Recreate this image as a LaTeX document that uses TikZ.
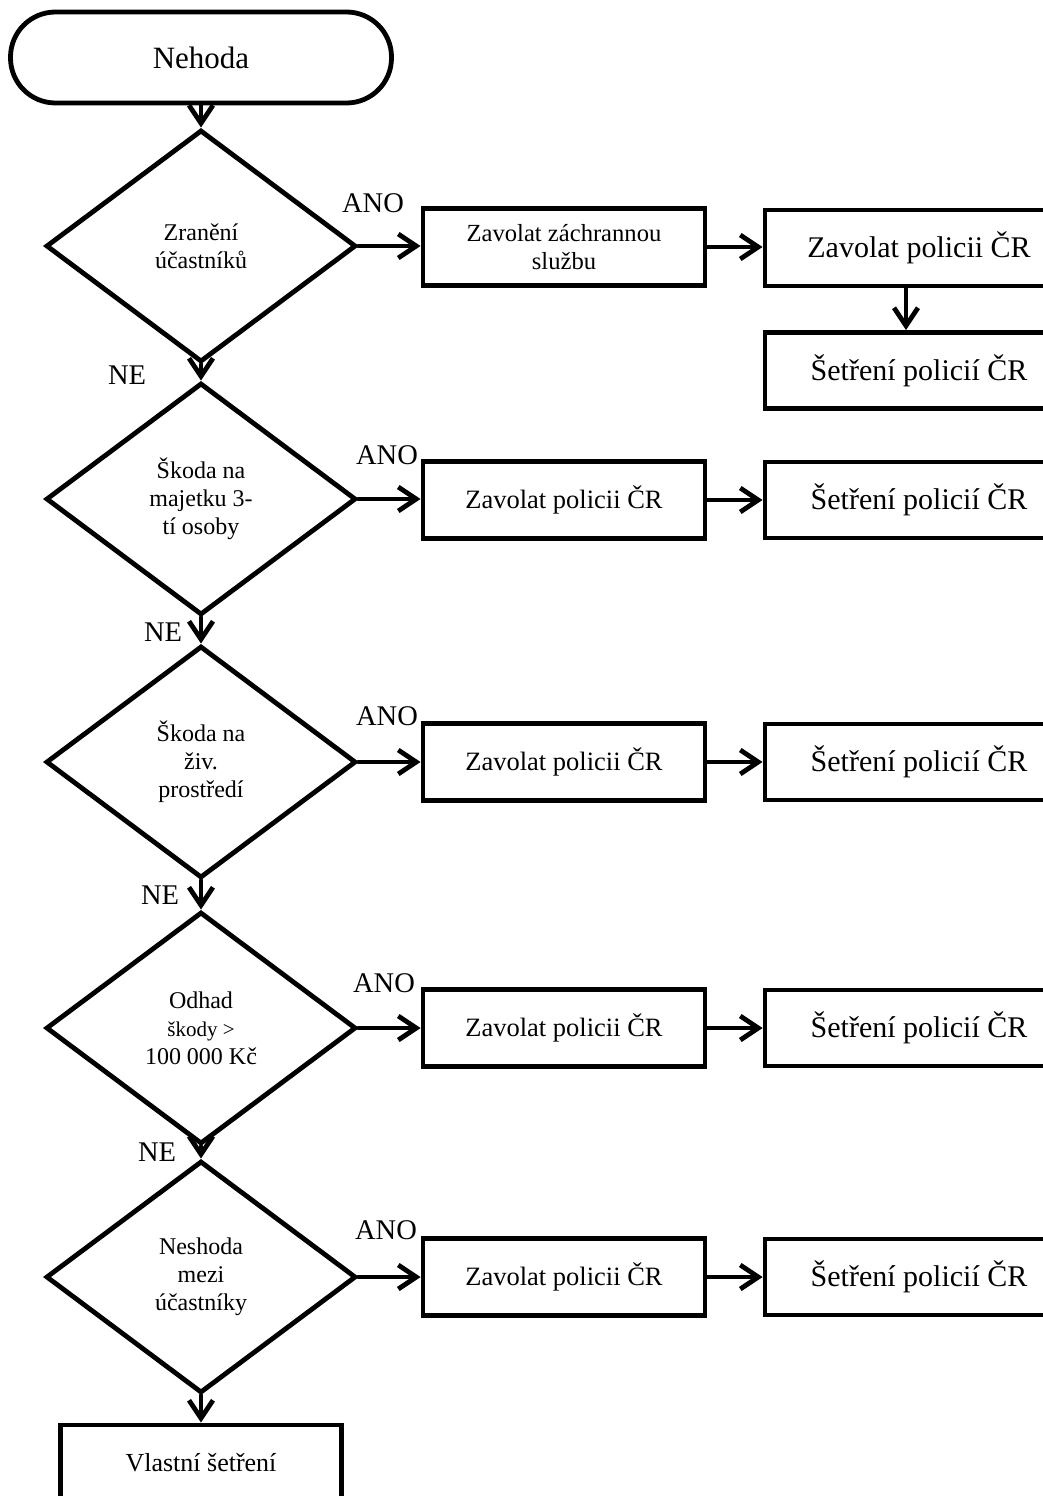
\documentclass[tikz,border=0pt]{standalone}
\usepackage{fontspec}
\setmainfont{Liberation Serif}
\usetikzlibrary{shapes.geometric,arrows.meta}
\begin{document}
\begin{tikzpicture}[x=1pt,y=-1pt,
  lw/.style={line width=4.8pt},
  term/.style={draw,lw,rounded corners=45pt,minimum width=381pt,minimum height=91pt,inner sep=0pt,font=\fontsize{31}{36}\selectfont},
  dec/.style={draw,lw,diamond,minimum width=310pt,minimum height=232pt,inner sep=0pt,align=center,font=\fontsize{24}{28}\selectfont},
  midbox/.style={draw,lw,minimum width=282pt,minimum height=77pt,inner sep=0pt,align=center,font=\fontsize{26.5}{30}\selectfont},
  rbox/.style={draw,lw,minimum width=308pt,minimum height=76pt,inner sep=0pt,font=\fontsize{30}{34}\selectfont},
  endbox/.style={draw,lw,minimum width=281pt,minimum height=76pt,inner sep=0pt,font=\fontsize{26}{30}\selectfont},
  arr/.style={lw,-{Straight Barb[length=18pt,width=24pt]},line cap=round,line join=round},
  lbl/.style={inner sep=0pt,font=\fontsize{28.5}{32}\selectfont}
]
\useasboundingbox (0,0) rectangle (1043,1496);
\clip (0,0) rectangle (1043,1496);

% spine
\node[term] (t) at (201,57.5) {Nehoda};
\node[dec] (d1) at (201,246) {Zranění\\účastníků};
\node[dec] (d2) at (201,499) {Škoda na\\majetku 3-\\tí osoby};
\node[dec] (d3) at (201,762) {Škoda na\\živ.\\prostředí};
\node[dec] (d4) at (201,1028) {Odhad\\{\fontsize{21}{24}\selectfont škody >}\\100 000 Kč};
\node[dec] (d5) at (201,1277) {Neshoda\\mezi\\účastníky};
\node[endbox] (v) at (201,1463) {Vlastní šetření};

% middle column
\node[midbox,font=\fontsize{24.6}{28}\selectfont] (m1) at (564,247) {Zavolat záchrannou\\službu};
\node[midbox] (m2) at (564,500) {Zavolat policii ČR};
\node[midbox] (m3) at (564,762) {Zavolat policii ČR};
\node[midbox] (m4) at (564,1028) {Zavolat policii ČR};
\node[midbox] (m5) at (564,1277) {Zavolat policii ČR};

% right column
\node[rbox] (r1) at (919,248) {Zavolat policii ČR};
\node[rbox] (r1b) at (919,370.5) {Šetření policií ČR};
\node[rbox] (r2) at (919,500) {Šetření policií ČR};
\node[rbox] (r3) at (919,762) {Šetření policií ČR};
\node[rbox] (r4) at (919,1028) {Šetření policií ČR};
\node[rbox] (r5) at (919,1277) {Šetření policií ČR};

% labels
\node[lbl] (a1) at (373,203) {ANO};
\node[lbl] (a2) at (387,455) {ANO};
\node[lbl] (a3) at (387,716) {ANO};
\node[lbl] (a4) at (384,983) {ANO};
\node[lbl] (a5) at (386,1230) {ANO};
\node[lbl] (n1) at (127,375) {NE};
\node[lbl] (n2) at (163,632) {NE};
\node[lbl] (n3) at (160,895) {NE};
\node[lbl] (n4) at (157,1152) {NE};

% connectors
\draw[arr] (t.south) -- (d1.north);
\draw[arr] (d1.south) -- (d2.north);
\draw[arr] (d2.south) -- (d3.north);
\draw[arr] (d3.south) -- (d4.north);
\draw[arr] (d4.south) -- (d5.north);
\draw[arr] (d5.south) -- (v.north);

\draw[arr] (d1.east) -- (m1.west |- d1.east);
\draw[arr] (d2.east) -- (m2.west |- d2.east);
\draw[arr] (d3.east) -- (m3.west);
\draw[arr] (d4.east) -- (m4.west);
\draw[arr] (d5.east) -- (m5.west);

\draw[arr] (m1.east) -- (r1.west |- m1.east);
\draw[arr] (m2.east) -- (r2.west);
\draw[arr] (m3.east) -- (r3.west);
\draw[arr] (m4.east) -- (r4.west);
\draw[arr] (m5.east) -- (r5.west);

\draw[arr] ([xshift=-13pt]r1.south) -- ([xshift=-13pt]r1b.north);
\end{tikzpicture}
\end{document}
